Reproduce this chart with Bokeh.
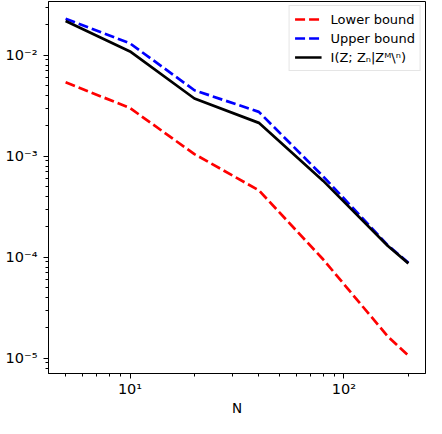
from bokeh.plotting import figure
from bokeh.models import Range1d, FixedTicker, CustomJSTickFormatter, Legend, LegendItem
from bokeh.embed import file_html
from bokeh.resources import INLINE

# Data
N = [5, 10, 20, 40, 80, 160, 200]
lower_bound = [5.4e-3, 3.0e-3, 1.05e-3, 4.6e-4, 9.5e-5, 1.65e-5, 1.06e-5]
upper_bound = [2.3e-2, 1.31e-2, 4.5e-3, 2.75e-3, 6.3e-4, 1.32e-4, 8.8e-5]
mutual_info = [2.18e-2, 1.09e-2, 3.73e-3, 2.14e-3, 5.7e-4, 1.3e-4, 8.7e-5]

labels = ["Lower bound", "Upper bound", "I(Z; Zₙ|Zᴹ\\ⁿ)"]
x_major = [10, 100]
y_major = [1e-5, 1e-4, 1e-3, 1e-2]

FONT = "DejaVu Sans"

p = figure(width=426, height=418, x_axis_type="log", y_axis_type="log",
           output_backend="svg", toolbar_location=None,
           x_range=Range1d(10 ** 0.619, 10 ** 2.381),
           y_range=Range1d(10 ** -5.151, 10 ** -1.468),
           min_border_left=48, min_border_right=1, min_border_top=1, min_border_bottom=0)

p.xgrid.visible = False
p.ygrid.visible = False
p.outline_line_color = "black"
p.outline_line_width = 1
p.outline_line_alpha = 1

x_minor = [m * 10 ** e for e in (0, 1, 2) for m in range(2, 10) if 4.16 < m * 10 ** e < 240]
y_minor = [m * 10 ** e for e in (-6, -5, -4, -3, -2) for m in range(2, 10)]
p.xaxis.ticker = FixedTicker(ticks=x_major, minor_ticks=x_minor)
p.yaxis.ticker = FixedTicker(ticks=y_major, minor_ticks=y_minor)

fmt = CustomJSTickFormatter(code="""
const sup = {"-":"\u207b","0":"\u2070","1":"\u00b9","2":"\u00b2","3":"\u00b3","4":"\u2074","5":"\u2075","6":"\u2076","7":"\u2077","8":"\u2078","9":"\u2079"};
const e = Math.round(Math.log10(tick));
return "10" + String(e).split("").map(c => sup[c]).join("");
""")
for ax in (p.xaxis[0], p.yaxis[0]):
    ax.formatter = fmt
    ax.axis_line_color = "black"
    ax.major_tick_line_color = "black"
    ax.minor_tick_line_color = "black"
    ax.major_tick_out = 5
    ax.major_tick_in = 0
    ax.minor_tick_out = 3
    ax.minor_tick_in = 0
    ax.major_label_text_font = FONT
    ax.major_label_text_font_size = "14.5px"
    ax.major_label_text_color = "black"
    ax.axis_label_text_font = FONT
    ax.axis_label_text_font_size = "13.5px"
    ax.axis_label_text_font_style = "normal"
    ax.axis_label_text_color = "black"

p.xaxis.axis_label = "N"
p.xaxis.major_label_standoff = 2
p.xaxis.axis_label_standoff = 0
p.yaxis.major_label_standoff = 6

r1 = p.line(N, lower_bound, line_color="red", line_width=2.7, line_dash="10 4")
r2 = p.line(N, upper_bound, line_color="blue", line_width=2.7, line_dash="10 4")
r3 = p.line(N, mutual_info, line_color="black", line_width=2.7)

legend = Legend(items=[LegendItem(label=labels[0], renderers=[r1]),
                       LegendItem(label=labels[1], renderers=[r2]),
                       LegendItem(label=labels[2], renderers=[r3])],
                location="top_right")
legend.label_text_font = FONT
legend.label_text_font_size = "13px"
legend.label_text_color = "black"
legend.border_line_color = "#cccccc"
legend.border_line_width = 1
legend.background_fill_alpha = 0.8
legend.glyph_width = 27
legend.glyph_height = 16
legend.label_standoff = 9
legend.label_height = 16
legend.padding = 5
legend.spacing = 3
legend.margin = 4
p.add_layout(legend)

open("out.html", "w").write(file_html(p, INLINE))
